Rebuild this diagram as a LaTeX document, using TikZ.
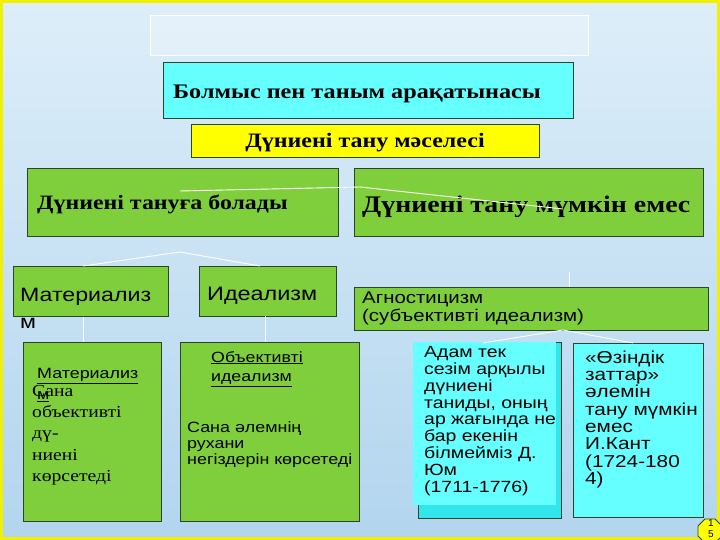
\documentclass[tikz,border=0pt]{standalone}
\usepackage{fontspec}
\setmainfont{Liberation Serif}
\setsansfont{Liberation Sans}
\newfontfamily\sansw{Liberation Sans}[FakeStretch=1.2]
\newfontfamily\serifw{Liberation Serif}[FakeStretch=1.17]
\usetikzlibrary{shapes.geometric}
\definecolor{bgtop}{HTML}{DDEEF9}
\definecolor{bgbot}{HTML}{B2D5EE}
\definecolor{boxgreen}{HTML}{7FCF3D}
\definecolor{boxcyan}{HTML}{66FFFF}
\definecolor{boxcyanB}{HTML}{33E6EE}
\definecolor{boxyellow}{HTML}{FFFF00}
\definecolor{edge}{HTML}{2A452A}
\definecolor{frameyellow}{HTML}{F0F000}
\tikzset{
  box/.style={draw=edge, line width=1pt, anchor=north west, inner sep=0pt},
  conn/.style={draw=white, line width=0.9pt},
  lbl/.style={anchor=base west, inner sep=0pt, align=left},
  mlbl/.style={anchor=north west, inner sep=0pt, align=left},
  serifb/.style={font=\serifw\bfseries\fontsize{#1}{#1}\selectfont},
  sans/.style={font=\sansw\fontsize{#1}{#1}\selectfont}
}
\begin{document}
\begin{tikzpicture}[x=1pt,y=-1pt]
\useasboundingbox (0,0) rectangle (720,540);
\shade[top color=bgtop,bottom color=bgbot] (0,0) rectangle (720,540);
\draw[frameyellow, line width=3pt] (1.5,1.5) rectangle (718.5,538.5);
% top empty frame
\node[draw=white, line width=1pt, fill=white, fill opacity=0.25, anchor=north west, minimum width=438, minimum height=40, inner sep=0pt] (topframe) at (150,15) {};
% title boxes
\node[box, fill=boxcyan, minimum width=410, minimum height=56] (title) at (163,62) {};
\node[lbl, serifb=20.7] (titletext) at (173,99) {Болмыс пен таным арақатынасы};
\node[box, fill=boxyellow, minimum width=348, minimum height=33] (problem) at (191,124) {};
\node[serifb=20.5, inner sep=0pt, anchor=base] (problemtext) at (365,148) {Дүниені тану мәселесі};
% green level 1
\node[box, fill=boxgreen, minimum width=311, minimum height=68] (can) at (27,168) {};
\node[lbl, serifb=20.4] (cantext) at (37,210) {Дүниені тануға болады};
\node[box, fill=boxgreen, minimum width=349, minimum height=68] (cannot) at (354,168) {};
\node[lbl, serifb=23.8] (cannottext) at (362,213) {Дүниені тану мүмкін емес};
% level 2
\node[box, fill=boxgreen, minimum width=155, minimum height=50] (mat) at (13,266) {};
\node[mlbl, font=\sansw\fontsize{19.3}{27}\selectfont] (mattext) at (20,288) {Материализ\\м};
\node[box, fill=boxgreen, minimum width=137, minimum height=50] (ideal) at (199,266) {};
\node[lbl, sans=19.5] (idealtext) at (207,300) {Идеализм};
\node[box, fill=boxgreen, minimum width=354, minimum height=43] (agn) at (354,287) {};
\node[mlbl, font=\sansw\fontsize{17}{18}\selectfont] (agntext) at (362,291.5) {Агностицизм\\(субъективті идеализм)};
% level 3
\node[box, fill=boxgreen, minimum width=138, minimum height=179] (matbox) at (23,342) {};
\node[mlbl, font=\sansw\fontsize{14.9}{21}\selectfont] (matboxhead) at (37,368) {\underline{Материализ}\\\underline{м}};
\node[mlbl, font=\serifw\fontsize{16.8}{21.3}\selectfont] (matboxtext) at (32,385) {Сана\\объективті\\дү-\\ниені\\көрсетеді};
\node[box, fill=boxgreen, minimum width=179, minimum height=179] (objbox) at (180,342) {};
\node[mlbl, font=\sansw\fontsize{14.8}{19.5}\selectfont] (objhead) at (211,351) {\underline{Объективті}\\\underline{идеализм}};
\node[mlbl, font=\sansw\fontsize{14.9}{15.8}\selectfont] (objtext) at (187,422) {Сана әлемнің\\рухани\\негіздерін көрсетеді};
\node[box, fill=boxcyanB, minimum width=143, minimum height=176] (humebox) at (418,342) {};
\node[fill=boxcyan, anchor=north west, inner sep=0pt, minimum width=143, minimum height=163] (humeinner) at (413,342) {};
\node[mlbl, font=\sansw\fontsize{16.2}{16.9}\selectfont] (humetext) at (424,346) {Адам тек\\сезім арқылы\\дүниені\\таниды, оның\\ар жағында не\\бар екенін\\білмейміз Д.\\Юм\\(1711-1776)};
\node[box, fill=boxcyan, minimum width=130, minimum height=174] (kantbox) at (573,343) {};
\node[mlbl, font=\sansw\fontsize{17.3}{17.3}\selectfont] (kanttext) at (585,350.5) {«Өзіндік\\заттар»\\әлемін\\тану мүмкін\\емес\\И.Кант\\(1724-180\\4)};
% page number
\node[draw=edge, fill=boxyellow, regular polygon, regular polygon sides=8, minimum size=26, inner sep=0pt, line width=0.8pt] (pagenum) at (710,531) {};
\node[font=\sffamily\fontsize{10}{11}\selectfont, align=center, inner sep=0pt, anchor=north] (pagetext) at (711,519) {1\\5};
% connectors
\coordinate (c1) at (180,191);
\coordinate (c2) at (360,187);
\coordinate (c3) at (563,209);
\draw[conn] (c1) -- (c2) -- (c3);
\coordinate (m1) at (83,266);
\coordinate (m2) at (180,252);
\coordinate (m3) at (260,266);
\draw[conn] (m1) -- (m2) -- (m3);
\draw[conn] (mat.south -| m1) -- (matbox.north -| m1);
\coordinate (iv) at (265,316);
\draw[conn] (iv) -- (objbox.north -| iv);
\coordinate (av) at (569,272);
\draw[conn] (av) -- (agn.north -| av);
\coordinate (a1) at (483,343);
\coordinate (a2) at (563,330);
\coordinate (a3) at (633,343);
\draw[conn] (a1) -- (a2) -- (a3);
\end{tikzpicture}
\end{document}
